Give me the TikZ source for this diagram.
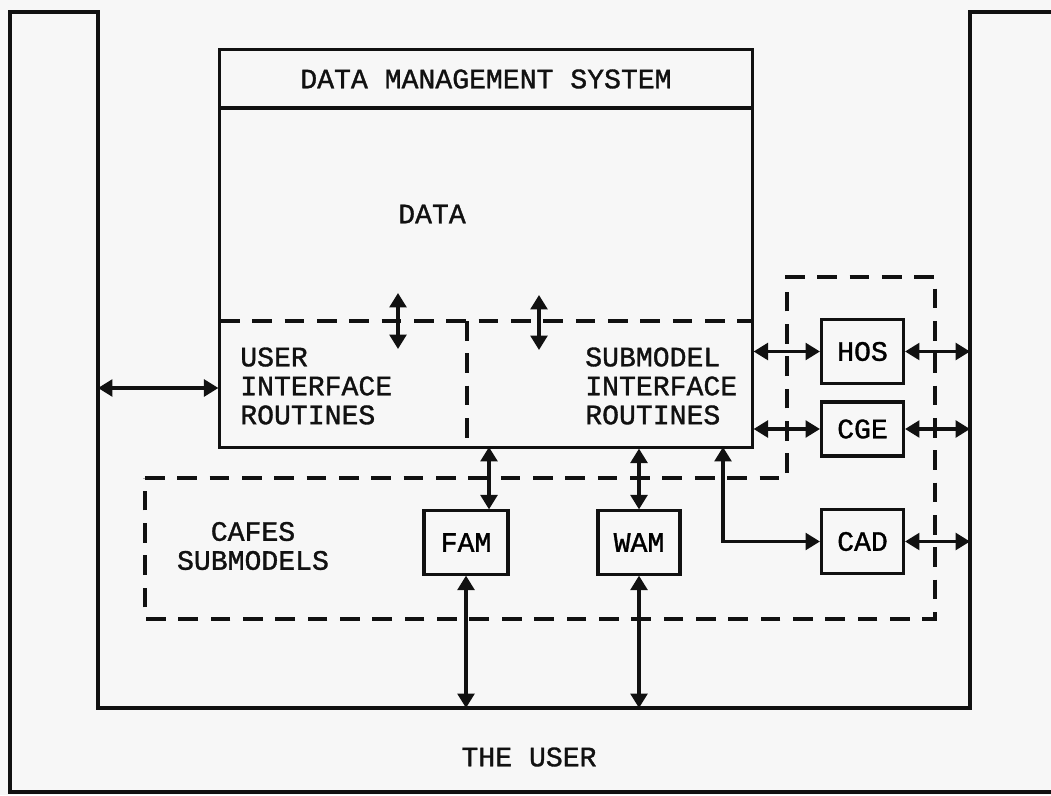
\documentclass[tikz,border=0pt]{standalone}
\usepackage{fontspec}
\newfontfamily\typew{Liberation Mono}[FakeBold=1.2]
\usetikzlibrary{arrows.meta,positioning}
\definecolor{paper}{HTML}{F7F7F7}
\definecolor{ink}{HTML}{111111}
\tikzset{
  ln/.style={line width=2.2pt,ink},
  dsh/.style={line width=2.5pt,ink,dash pattern=on 14pt off 9pt},
  dbl/.style={{Triangle[length=3.6mm,width=4.2mm]}-{Triangle[length=3.6mm,width=4.2mm]},line width=2.2pt,ink},
  box/.style={draw=ink,line width=2.2pt,minimum width=2.05cm,minimum height=1.58cm,inner sep=0pt,font=\typew\fontsize{20}{21}\selectfont},
  lbl/.style={inner sep=0pt,text=ink,font=\typew\fontsize{20}{20.6}\selectfont}
}
\begin{document}
\begin{tikzpicture}[x=0.025cm,y=-0.025cm]
\fill[paper] (0,0) rectangle (1051,795);
\useasboundingbox (0,0) rectangle (1051,795);
% the user: open frame round everything, right side runs off the page
\draw[ln] (10,12) -- (10,792) -- (1054,792) -- (1054,12) -- (970,12)
  -- (970,708) -- (98,708) -- (98,12) -- cycle;
\coordinate (uL) at (98,388);
\coordinate (uR) at (970,0);
\coordinate (uB) at (0,708);
\node[lbl] (user) at (529,757) {THE USER};
% data management system
\node[draw=ink,line width=2.2pt,minimum width=13.3cm,minimum height=9.925cm,inner sep=0pt] (dms) at (486,248.5) {};
\draw[ln] (220,108) -- (752,108);
\node[lbl] (dmst) at (486,79) {DATA MANAGEMENT SYSTEM};
\node[lbl] (data) at (432,214) {DATA};
\draw[dsh] (220,321) -- (752,321);
\draw[dsh] (467,321) -- (467,447);
\node[lbl,anchor=west,align=left] (uir) at (240,386) {USER\\INTERFACE\\ROUTINES};
\node[lbl,anchor=west,align=left] (sir) at (585,386) {SUBMODEL\\INTERFACE\\ROUTINES};
% submodels
\draw[dsh] (145,478) -- (787,478) -- (787,277) -- (935,277) -- (935,619) -- (145,619) -- cycle;
\node[lbl,align=center] (cafes) at (253,546) {CAFES\\SUBMODELS};
\node[box,minimum width=2.1cm] (fam) at (466,542.5) {FAM};
\node[box] (wam) at (639,542.5) {WAM};
\node[box] (hos) at (862.5,351.5) {HOS};
\node[box,minimum height=1.35cm] (cge) at (862.5,429) {CGE};
\node[box] (cad) at (862.5,541.5) {CAD};
% connections
\coordinate (a1) at (398,293);
\coordinate (a2) at (539,295);
\coordinate (d1) at (489,447);
\coordinate (d3) at (723,447);
\draw[dbl] (a1) -- ++(0,56);
\draw[dbl] (a2) -- ++(0,55);
\draw[dbl] (uL) -- (uL -| dms.west);
\draw[dbl] (d1) -- (d1 |- fam.north);
\draw[dbl] (wam.north) -- (wam.north |- dms.south);
\draw[dbl] (fam.south) -- (fam.south |- uB);
\draw[dbl] (wam.south) -- (wam.south |- uB);
\draw[dbl] (hos.west -| dms.east) -- (hos.west);
\draw[dbl] (cge.west -| dms.east) -- (cge.west);
\draw[dbl] (d3) |- (cad.west);
\foreach \b in {hos,cge,cad}
  \draw[dbl] (\b.east) -- (\b.east -| uR);
\end{tikzpicture}
\end{document}
